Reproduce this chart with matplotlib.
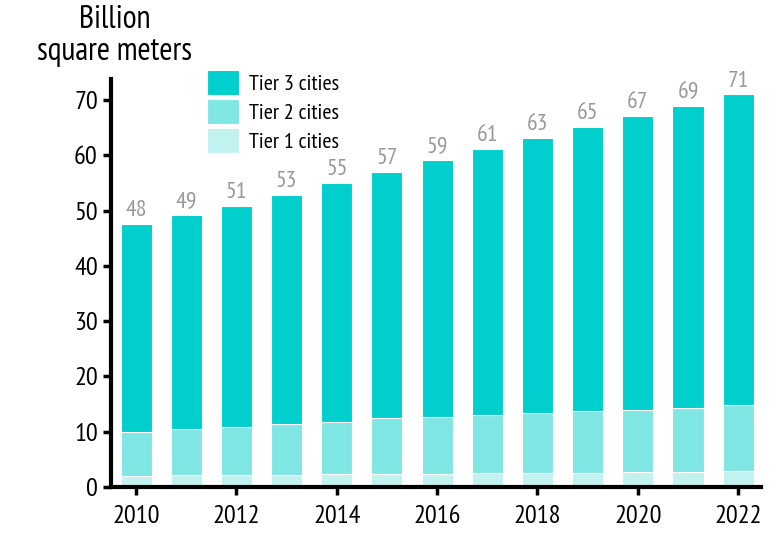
import matplotlib.pyplot as plt

# Data
years = [2010, 2011, 2012, 2013, 2014, 2015, 2016, 2017, 2018, 2019, 2020, 2021, 2022]
tier1 = [1.9, 2.2, 2.1, 2.1, 2.3, 2.3, 2.3, 2.6, 2.6, 2.6, 2.7, 2.7, 2.9]
tier2 = [8.0, 8.3, 8.7, 9.2, 9.4, 10.1, 10.3, 10.4, 10.8, 11.1, 11.3, 11.5, 12.0]
tier3 = [37.7, 38.7, 40.0, 41.5, 43.3, 44.6, 46.5, 48.1, 49.7, 51.4, 53.1, 54.7, 56.1]
totals = [48, 49, 51, 53, 55, 57, 59, 61, 63, 65, 67, 69, 71]

plt.rcParams['font.family'] = ['PT Sans Narrow', 'Lato', 'DejaVu Sans']

fig = plt.figure(figsize=(7.79, 5.41), dpi=100)
ax = fig.add_axes([0.1425, 0.1, 0.834, 0.754])

w = 0.62
bottom2 = tier1
bottom3 = [a + b for a, b in zip(tier1, tier2)]
ax.bar(years, tier1, w, color='#c2f2f0', edgecolor='white', linewidth=0.8, label='Tier 1 cities')
ax.bar(years, tier2, w, bottom=bottom2, color='#80e6e4', edgecolor='white', linewidth=0.8, label='Tier 2 cities')
ax.bar(years, tier3, w, bottom=bottom3, color='#00cfcd', edgecolor='white', linewidth=0.8, label='Tier 3 cities')

for x, b3, t3, lab in zip(years, bottom3, tier3, totals):
    ax.text(x, b3 + t3 + 0.5, str(lab), ha='center', va='bottom', color='#999999', fontsize=17)

ax.set_xlim(2009.5, 2022.45)
ax.set_ylim(0, 73.8)
ax.set_xticks(range(2010, 2023, 2))
ax.set_yticks(range(0, 71, 10))

for s in ['top', 'right']:
    ax.spines[s].set_visible(False)
ax.spines['left'].set_linewidth(3)
ax.spines['bottom'].set_linewidth(3)
ax.tick_params(axis='both', width=2.5, length=6, labelsize=19)
ax.tick_params(axis='x', pad=7)

handles, labels = ax.get_legend_handles_labels()
ax.legend(handles[::-1], labels[::-1], loc='upper left', bbox_to_anchor=(0.117, 1.072),
          frameon=False, fontsize=16, handlelength=1.45, handleheight=1.35,
          labelspacing=0.2, handletextpad=0.45)

fig.text(0.147, 0.877, 'Billion\nsquare meters', ha='center', va='bottom', fontsize=23, linespacing=1.05)

fig.savefig('out.png', dpi=100)
